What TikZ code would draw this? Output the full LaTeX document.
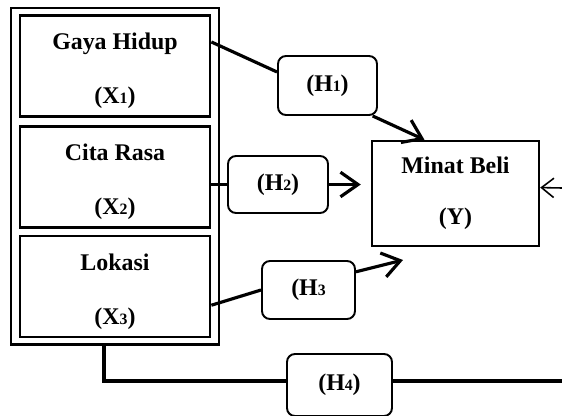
\documentclass[tikz,border=0pt]{standalone}
\usepackage{fontspec}
\setmainfont{Liberation Serif}
\usetikzlibrary{arrows.meta,calc,fit}
\tikzset{
  txt/.style={font=\fontsize{13.6}{16}\selectfont\bfseries},
  varbox/.style={txt, draw, line width=1.6pt, minimum width=3.8cm, minimum height=2.02cm, align=center},
  depbox/.style={txt, draw, line width=1.4pt, minimum width=3.34cm, minimum height=2.1cm, align=center},
  hypbox/.style={txt, draw, line width=1.1pt, rounded corners=4.5pt},
  link/.style={line width=1.8pt},
  arrowlink/.style={link, -{Straight Barb[length=10pt,width=14pt]}},
}
\newcommand{\idx}[1]{{\fontsize{9}{9}\selectfont #1}}
\newcommand{\lift}{\rule{0pt}{15pt}}
\begin{document}
\begin{tikzpicture}[x=0.02cm, y=-0.02cm]
        \useasboundingbox (0,0) rectangle (562,416);

        % independent variables
        \node[varbox] (gh) at (115,66) {\lift Gaya Hidup\\[14.7pt](X\idx{1})};
        \node[varbox] (cr) at (115,177) {\lift Cita Rasa\\[14.7pt](X\idx{2})};
        \node[varbox] (lo) at (115,286.5) {\lift Lokasi\\[14.7pt](X\idx{3})};
        \node[draw, line width=1.3pt, fit=(gh)(cr)(lo), inner xsep=0.15cm, inner ysep=0.12cm] (grp) {};

        % dependent variable
        \node[depbox] (my) at (455.5,193.5) {Minat Beli\\[13pt](Y)};

        % hypotheses
        \node[hypbox, minimum width=1.98cm, minimum height=1.18cm] (h1) at (327.5,85.5) {(H\idx{1})};
        \node[hypbox, minimum width=2cm, minimum height=1.14cm] (h2) at (278,184.5) {(H\idx{2})};
        \node[hypbox, minimum width=1.86cm, minimum height=1.16cm] (h3) at (308.5,290) {(H\idx{3}};
        \node[hypbox, minimum width=2.1cm, minimum height=1.24cm] (h4) at (339.5,385) {(H\idx{4})};

        % H1
        \draw[link] (gh.14) -- (h1.165);
        \draw[arrowlink] (h1.-34) -- (my.120);

        % H2
        \coordinate (t2) at ($(my.west |- h2.east)+(-10,0)$);
        \draw[link] (cr.east |- h2.west) -- (h2.west);
        \draw[arrowlink] (h2.east) -- (t2);

        % H3
        \coordinate (t3) at (403,260);
        \draw[link] (lo.-11) -- (h3.west);
        \draw[arrowlink] (h3.21) -- (t3);

        % H4
        \coordinate (r4) at (562,381);
        \draw[link] ($(grp.south)+(-11,0)$) |- (h4.west |- r4);
        \draw[link] (h4.east |- r4) -- (r4);

        % simultaneous arrow
        \coordinate (ry) at (562,188);
        \draw[line width=0.9pt, -{Straight Barb[length=7pt,width=11pt]}] (ry) -- (my.4);
\end{tikzpicture}
\end{document}
